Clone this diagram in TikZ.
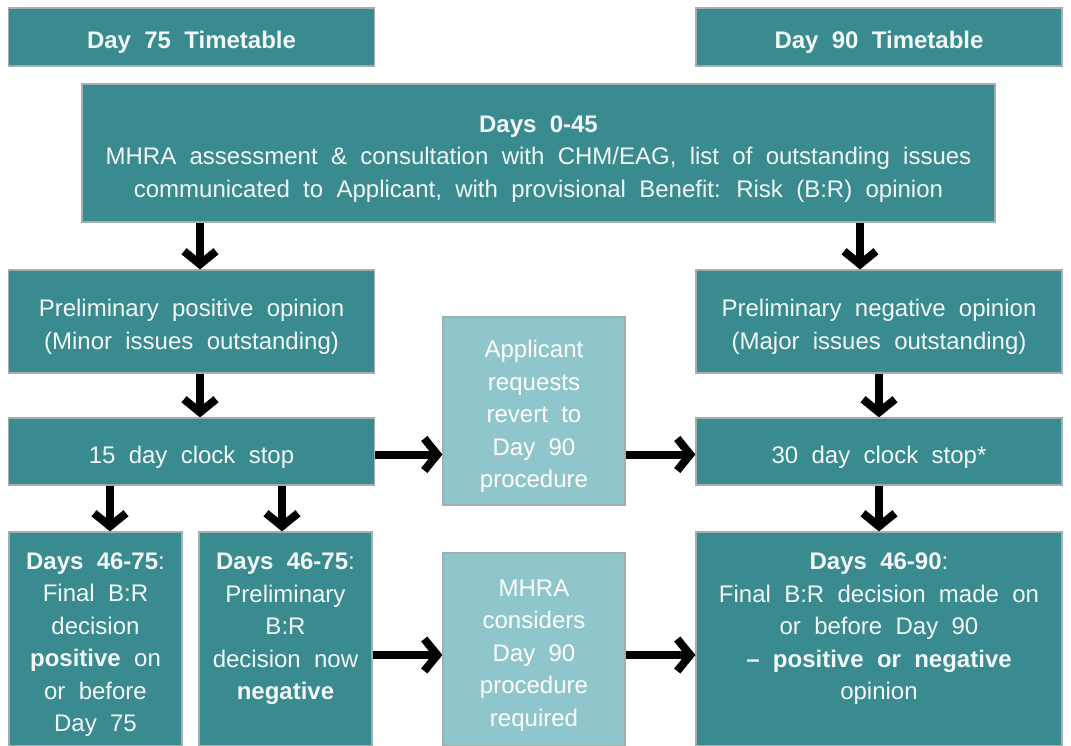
\documentclass[tikz,border=0pt]{standalone}
\usepackage{fontspec}
\setmainfont{Liberation Sans}[WordSpace=2]
\usetikzlibrary{arrows.meta,positioning}

\definecolor{tealdark}{RGB}{58,139,144}
\definecolor{teallight}{RGB}{143,198,203}
\definecolor{boxtext}{RGB}{242,247,247}
\definecolor{boxline}{RGB}{160,176,176}

\newcommand{\lowstrut}{\rule{0pt}{28pt}}

\tikzstyle{darkblock}  = [rectangle, fill=tealdark, draw=boxline, line width=1.2pt, text=boxtext, align=center, inner sep=0pt,
                          font=\fontsize{24}{32.5}\selectfont]
\tikzstyle{lightblock} = [darkblock, fill=teallight, text=white]
\tikzstyle{sidewidth}  = [minimum width=366pt]
\tikzstyle{raisedtext} = [text depth=37pt]
\tikzstyle{flow}       = [line width=8pt, -{Straight Barb[length=13pt,width=32pt]}]

\begin{document}
\begin{tikzpicture}[x=1pt, y=-1pt]
        \useasboundingbox (0,0) rectangle (1071,746);
        \node (d75)    [darkblock, sidewidth, minimum height=58pt]  at (191.5,37)  {\lowstrut\textbf{Day 75 Timetable}};
        \node (d90)    [darkblock, sidewidth, minimum height=58pt]  at (879,37)    {\lowstrut\textbf{Day 90 Timetable}};
        \node (top)    [darkblock, minimum width=913pt, minimum height=138pt] at (538.5,153)
                       {\lowstrut\textbf{Days 0-45}\\MHRA assessment \& consultation with CHM/EAG, list of outstanding issues\\communicated to Applicant, with provisional Benefit: Risk (B:R) opinion};
        \node (ppos)   [darkblock, sidewidth, minimum height=103pt] at (191.5,321.5) {\lowstrut Preliminary positive opinion\\(Minor issues outstanding)};
        \node (pneg)   [darkblock, sidewidth, minimum height=103pt] at (879,321.5)   {\lowstrut Preliminary negative opinion\\(Major issues outstanding)};
        \node (stop15) [darkblock, sidewidth, minimum height=67pt]  at (191.5,451.5) {\lowstrut 15 day clock stop};
        \node (stop30) [darkblock, sidewidth, minimum height=67pt]  at (879,451.5)   {\lowstrut 30 day clock stop*};
        \node (revert) [lightblock, minimum width=182pt, minimum height=188pt] at (534,411) {\lowstrut Applicant\\requests\\revert to\\Day 90\\procedure};
        \node (fin75)  [darkblock, minimum width=173pt, minimum height=214pt] at (95.5,639)
                       {\lowstrut\textbf{Days 46-75}:\\Final B:R\\decision\\\textbf{positive} on\\or before\\Day 75};
        \node (neg75)  [darkblock, raisedtext, minimum width=173pt, minimum height=214pt] at (285.5,639)
                       {\lowstrut\textbf{Days 46-75}:\\Preliminary\\B:R\\decision now\\\textbf{negative}};
        \node (mhra)   [lightblock, minimum width=182pt, minimum height=193pt] at (534,649.5) {\lowstrut MHRA\\considers\\Day 90\\procedure\\required};
        \node (fin90)  [darkblock, raisedtext, sidewidth, minimum height=214pt] at (879,639)
                       {\lowstrut\textbf{Days 46-90}:\\Final B:R decision made on\\or before Day 90\\\textbf{– positive or negative}\\opinion};
        \draw[flow] (top.south -| 200,0)       -- (ppos.north -| 200,0);
        \draw[flow] (top.south -| 860,0)       -- (pneg.north -| 860,0);
        \draw[flow] (ppos.south -| 200,0)      -- (stop15.north -| 200,0);
        \draw[flow] (pneg)                     -- (stop30);
        \draw[flow] (stop15.south -| 110,0)    -- (fin75.north -| 110,0);
        \draw[flow] (stop15.south -| 282,0)    -- (neg75.north -| 282,0);
        \draw[flow] (stop30)                   -- (fin90);
        \draw[flow] ([yshift=-3pt]stop15.east) -- ([yshift=-3pt]stop15.east -| revert.west);
        \draw[flow] ([yshift=-3pt]stop30.west -| revert.east) -- ([yshift=-3pt]stop30.west);
        \draw[flow] ([yshift=-16pt]neg75.east) -- ([yshift=-16pt]neg75.east -| mhra.west);
        \draw[flow] ([yshift=-5.5pt]mhra.east) -- ([yshift=-5.5pt]mhra.east -| fin90.west);
\end{tikzpicture}
\end{document}
